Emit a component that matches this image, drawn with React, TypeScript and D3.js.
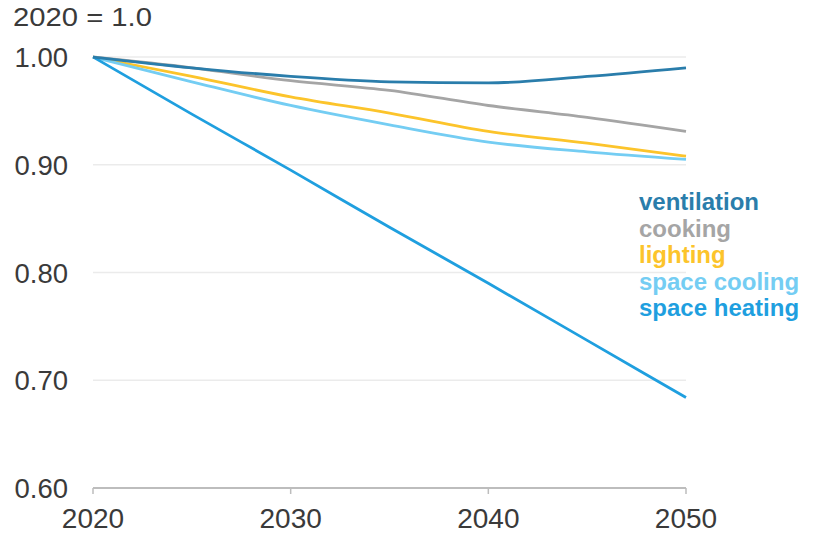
import React from "react";
import * as d3 from "d3";

const years = [2020, 2025, 2030, 2035, 2040, 2045, 2050];
const ventilation = [1.0, 0.99, 0.982, 0.977, 0.976, 0.982, 0.99];
const cooking = [1.0, 0.99, 0.978, 0.969, 0.955, 0.944, 0.931];
const lighting = [1.0, 0.982, 0.963, 0.948, 0.931, 0.92, 0.908];
const spaceCooling = [1.0, 0.977, 0.955, 0.937, 0.921, 0.912, 0.905];
const spaceHeating = [1.0, 0.947, 0.895, 0.842, 0.79, 0.737, 0.684];
const yTicks = [0.6, 0.7, 0.8, 0.9, 1.0];
const xTicks = [2020, 2030, 2040, 2050];

const series = [
  { name: "ventilation", values: ventilation, color: "#2a7dab" },
  { name: "cooking", values: cooking, color: "#a5a5a5" },
  { name: "lighting", values: lighting, color: "#fcc42b" },
  { name: "space cooling", values: spaceCooling, color: "#74cdf3" },
  { name: "space heating", values: spaceHeating, color: "#1f9fdf" },
];

export default function App() {
  const W = 814, H = 545;
  const x = d3.scaleLinear().domain([2020, 2050]).range([93, 686]);
  const y = d3.scaleLinear().domain([0.6, 1.0]).range([488, 57]);
  const line = (vals: number[]) =>
    d3.line<number>().x((_, i) => x(years[i])).y((v) => y(v)).curve(d3.curveMonotoneX)(vals) || "";
  const font = "'Liberation Sans', Arial, sans-serif";
  const drawOrder = ["cooking", "lighting", "space cooling", "space heating", "ventilation"];
  return (
    <svg width={W} height={H} style={{ position: "absolute", left: 0, top: 0 }} fontFamily={font}>
      <rect width={W} height={H} fill="#fff" />
      <text x={13} y={26} fontSize={26} fill="#3a3a3a" textLength={139} lengthAdjust="spacingAndGlyphs">2020 = 1.0</text>
      {yTicks.filter((t) => t > 0.6).map((t) => (
        <line key={t} x1={x(2020)} x2={x(2050)} y1={y(t)} y2={y(t)} stroke="#ebebeb" strokeWidth={1.5} />
      ))}
      {yTicks.map((t) => (
        <text key={t} x={68} y={y(t) + 10} fontSize={27.5} fill="#3a3a3a" textAnchor="end">{t.toFixed(2)}</text>
      ))}
      <line x1={x(2020)} x2={x(2050)} y1={y(0.6)} y2={y(0.6)} stroke="#bdbdbd" strokeWidth={2} />
      {xTicks.map((t) => (
        <g key={t}>
          <line x1={x(t)} x2={x(t)} y1={y(0.6)} y2={y(0.6) + 6} stroke="#bdbdbd" strokeWidth={1.5} />
          <text x={x(t)} y={528} fontSize={28} fill="#3a3a3a" textAnchor="middle">{t}</text>
        </g>
      ))}
      {drawOrder.map((n) => {
        const s = series.find((d) => d.name === n)!;
        return <path key={n} d={line(s.values)} fill="none" stroke={s.color} strokeWidth={2.8} strokeLinejoin="round" />;
      })}
      {series.map((s, i) => (
        <text key={s.name} x={639} y={210 + i * 26.5} fontSize={24} fontWeight="bold" fill={s.color}>{s.name}</text>
      ))}
    </svg>
  );
}
